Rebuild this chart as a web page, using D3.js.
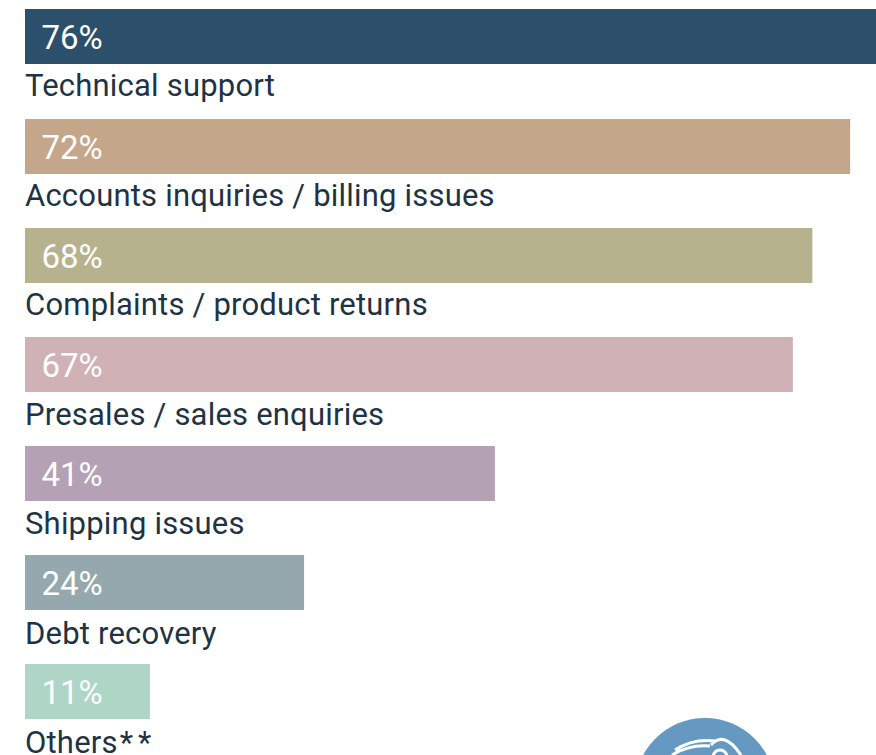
<!DOCTYPE html>
<html>
<head>
<meta charset="utf-8">
<script src="https://cdn.jsdelivr.net/npm/d3@7"></script>
<style>
html, body { margin: 0; padding: 0; background: #fff; overflow: hidden; }
text { font-family: "Roboto", sans-serif; }
</style>
</head>
<body>
<div id="chart"></div>
<script>
var categories = ["Technical support", "Accounts inquiries / billing issues", "Complaints / product returns",
    "Presales / sales enquiries", "Shipping issues", "Debt recovery", "Others**"];
// bar lengths, the printed labels are rounded
var values = [76, 72, 68.7, 67, 41, 24.35, 10.9];
var valueLabels = ["76%", "72%", "68%", "67%", "41%", "24%", "11%"];
var colors = ["#2c4f6b", "#c4a68b", "#b6b28e", "#cfb1b6", "#b4a1b3", "#95a8ae", "#aed5c6"];

var width = 876,
height = 755;

var svg = d3.select("#chart")
.append("svg")
.attr("width", width)
.attr("height", height);

var xScale = d3.scaleLinear()
.domain([0, 76])
.range([25, 896]);

var yScale = d3.scaleBand()
.domain(categories)
.range([9.4, 773.6]);

// the category labels run on a slightly wider step than the bars
var labelScale = d3.scaleBand()
.domain(categories)
.range([96, 862.5]);

var barHeight = 55;

svg.selectAll("rect.bar")
.data(categories)
.enter()
.append("rect")
.attr("class", "bar")
.attr("x", xScale(0))
.attr("y", function(d) { return Math.round(yScale(d)); })
.attr("width", function(d, i) { return xScale(values[i]) - xScale(0); })
.attr("height", barHeight)
.attr("fill", function(d, i) { return colors[i]; });

// value inside the bar
svg.selectAll("text.value")
.data(categories)
.enter()
.append("text")
.attr("class", "value")
.attr("x", 41.5)
.attr("y", function(d) { return Math.round(yScale(d)) + 40; })
.attr("font-size", 33)
.attr("fill", "#fff")
.text(function(d, i) { return valueLabels[i]; });

// category under the bar
var catLabels = svg.selectAll("text.cat")
.data(categories)
.enter()
.append("text")
.attr("class", "cat")
.attr("x", 25)
.attr("y", function(d) { return labelScale(d); })
.attr("font-size", 31)
.attr("letter-spacing", 0.2)
.attr("fill", "#1e3344");

catLabels.append("tspan")
.text(function(d) { return d.replace("**", ""); });

// the footnote stars are set wide in the original
catLabels.filter(function(d) { return d.indexOf("**") > -1; })
.append("tspan")
.attr("dx", 2)
.attr("letter-spacing", 5)
.text("**");

// logo at the bottom, cut off by the page edge
var logo = svg.append("g").attr("transform", "translate(705,788)");
logo.append("circle").attr("r", 70).attr("fill", "#6699c2");
logo.append("path")
.attr("d", "M-30,-38 Q-12,-50 11,-47 M-33,-33 Q-15,-44 5,-42 M6,-43 Q19,-58 36,-33")
.attr("fill", "none").attr("stroke", "#fff").attr("stroke-width", 3);
logo.append("circle")
.attr("cx", 15).attr("cy", -31).attr("r", 7)
.attr("fill", "none").attr("stroke", "#fff").attr("stroke-width", 3);
</script>
</body>
</html>
